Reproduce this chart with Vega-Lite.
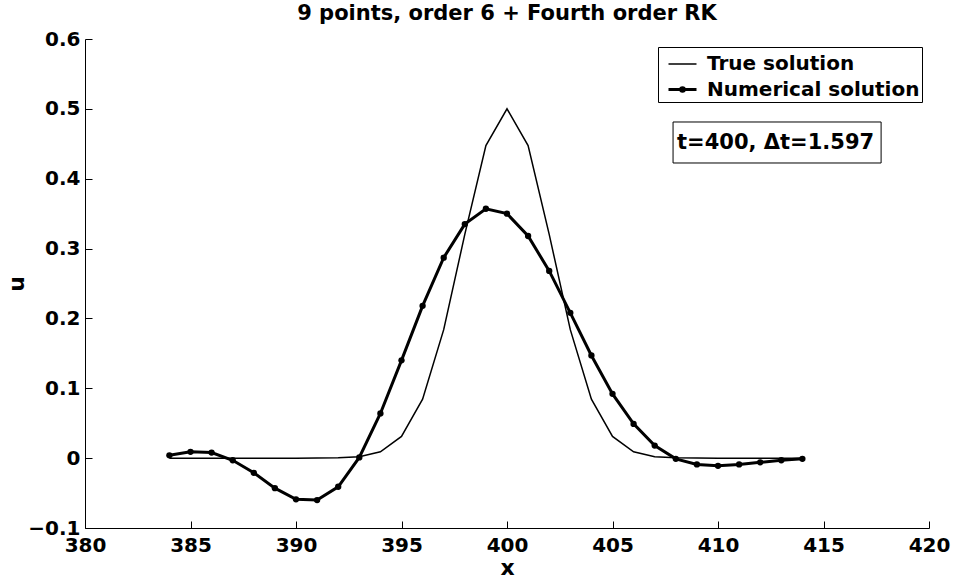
{
  "$schema": "https://vega.github.io/schema/vega-lite/v6.json",
  "width": 844,
  "height": 489,
  "autosize": {"type": "none"},
  "padding": {"left": 85, "top": 39, "right": 25, "bottom": 57},
  "background": "white",
  "config": {
    "view": {"stroke": null},
    "font": "DejaVu Sans",
    "axis": {
      "domainColor": "black",
      "domainWidth": 1,
      "tickColor": "black",
      "tickWidth": 1,
      "tickSize": -7,
      "labelColor": "black",
      "labelFont": "DejaVu Sans",
      "labelFontSize": 20,
      "labelFontWeight": "bold",
      "titleColor": "black",
      "titleFont": "DejaVu Sans",
      "titleFontSize": 22,
      "titleFontWeight": "bold",
      "grid": false,
      "labelFlush": false,
      "labelOverlap": false
    }
  },
  "title": {
    "text": "9 points, order 6 + Fourth order RK",
    "font": "DejaVu Sans",
    "fontSize": 21,
    "fontWeight": "bold",
    "color": "black",
    "anchor": "middle",
    "baseline": "alphabetic",
    "offset": -12
  },
  "datasets": {
    "curves": [
      {"x": 384, "u": 0.0, "series": "True solution"},
      {"x": 385, "u": 0.0, "series": "True solution"},
      {"x": 386, "u": 0.0, "series": "True solution"},
      {"x": 387, "u": 0.0, "series": "True solution"},
      {"x": 388, "u": 0.0000001, "series": "True solution"},
      {"x": 389, "u": 0.0000007, "series": "True solution"},
      {"x": 390, "u": 0.0000074, "series": "True solution"},
      {"x": 391, "u": 0.0000617, "series": "True solution"},
      {"x": 392, "u": 0.000408, "series": "True solution"},
      {"x": 393, "u": 0.00216, "series": "True solution"},
      {"x": 394, "u": 0.00916, "series": "True solution"},
      {"x": 395, "u": 0.0311, "series": "True solution"},
      {"x": 396, "u": 0.0845, "series": "True solution"},
      {"x": 397, "u": 0.1839, "series": "True solution"},
      {"x": 398, "u": 0.3203, "series": "True solution"},
      {"x": 399, "u": 0.4474, "series": "True solution"},
      {"x": 400, "u": 0.5, "series": "True solution"},
      {"x": 401, "u": 0.4474, "series": "True solution"},
      {"x": 402, "u": 0.3203, "series": "True solution"},
      {"x": 403, "u": 0.1839, "series": "True solution"},
      {"x": 404, "u": 0.0845, "series": "True solution"},
      {"x": 405, "u": 0.0311, "series": "True solution"},
      {"x": 406, "u": 0.00916, "series": "True solution"},
      {"x": 407, "u": 0.00216, "series": "True solution"},
      {"x": 408, "u": 0.000408, "series": "True solution"},
      {"x": 409, "u": 0.0000617, "series": "True solution"},
      {"x": 410, "u": 0.0000074, "series": "True solution"},
      {"x": 411, "u": 0.0000007, "series": "True solution"},
      {"x": 412, "u": 0.0000001, "series": "True solution"},
      {"x": 413, "u": 0.0, "series": "True solution"},
      {"x": 414, "u": 0.0, "series": "True solution"},
      {"x": 384, "u": 0.004, "series": "Numerical solution"},
      {"x": 385, "u": 0.009, "series": "Numerical solution"},
      {"x": 386, "u": 0.008, "series": "Numerical solution"},
      {"x": 387, "u": -0.003, "series": "Numerical solution"},
      {"x": 388, "u": -0.021, "series": "Numerical solution"},
      {"x": 389, "u": -0.043, "series": "Numerical solution"},
      {"x": 390, "u": -0.059, "series": "Numerical solution"},
      {"x": 391, "u": -0.060, "series": "Numerical solution"},
      {"x": 392, "u": -0.041, "series": "Numerical solution"},
      {"x": 393, "u": 0.001, "series": "Numerical solution"},
      {"x": 394, "u": 0.064, "series": "Numerical solution"},
      {"x": 395, "u": 0.140, "series": "Numerical solution"},
      {"x": 396, "u": 0.218, "series": "Numerical solution"},
      {"x": 397, "u": 0.287, "series": "Numerical solution"},
      {"x": 398, "u": 0.335, "series": "Numerical solution"},
      {"x": 399, "u": 0.357, "series": "Numerical solution"},
      {"x": 400, "u": 0.350, "series": "Numerical solution"},
      {"x": 401, "u": 0.318, "series": "Numerical solution"},
      {"x": 402, "u": 0.268, "series": "Numerical solution"},
      {"x": 403, "u": 0.208, "series": "Numerical solution"},
      {"x": 404, "u": 0.147, "series": "Numerical solution"},
      {"x": 405, "u": 0.092, "series": "Numerical solution"},
      {"x": 406, "u": 0.049, "series": "Numerical solution"},
      {"x": 407, "u": 0.018, "series": "Numerical solution"},
      {"x": 408, "u": -0.001, "series": "Numerical solution"},
      {"x": 409, "u": -0.009, "series": "Numerical solution"},
      {"x": 410, "u": -0.011, "series": "Numerical solution"},
      {"x": 411, "u": -0.009, "series": "Numerical solution"},
      {"x": 412, "u": -0.006, "series": "Numerical solution"},
      {"x": 413, "u": -0.003, "series": "Numerical solution"},
      {"x": 414, "u": -0.001, "series": "Numerical solution"}
    ],
    "note": [
      {"label": "t=400, Δt=1.597", "x0": 407.87, "x1": 417.73, "y0": 0.4812, "y1": 0.4225, "xt": 408.06, "yt": 0.4518}
    ]
  },
  "layer": [
    {
      "data": {"name": "curves"},
      "transform": [{"filter": "datum.series === 'True solution'"}],
      "mark": {"type": "line", "color": "black", "strokeWidth": 1.5},
      "encoding": {
        "x": {
          "field": "x",
          "type": "quantitative",
          "scale": {"domain": [380, 420], "nice": false, "zero": false},
          "axis": {
            "title": "x",
            "values": [380, 385, 390, 395, 400, 405, 410, 415, 420],
            "format": "d",
            "labelPadding": 14,
            "titlePadding": 2
          }
        },
        "y": {
          "field": "u",
          "type": "quantitative",
          "scale": {"domain": [-0.1, 0.6], "nice": false, "zero": false},
          "axis": {
            "title": "u",
            "values": [-0.1, 0, 0.1, 0.2, 0.3, 0.4, 0.5, 0.6],
            "format": ".1~f",
            "labelPadding": 12,
            "titlePadding": -1
          }
        }
      }
    },
    {
      "data": {"name": "curves"},
      "transform": [{"filter": "datum.series === 'Numerical solution'"}],
      "mark": {"type": "line", "color": "black", "strokeWidth": 3},
      "encoding": {
        "x": {"field": "x", "type": "quantitative"},
        "y": {"field": "u", "type": "quantitative"}
      }
    },
    {
      "data": {"name": "curves"},
      "transform": [{"filter": "datum.series === 'Numerical solution'"}],
      "mark": {"type": "point", "filled": true, "color": "black", "size": 40, "opacity": 1},
      "encoding": {
        "x": {"field": "x", "type": "quantitative"},
        "y": {"field": "u", "type": "quantitative"}
      }
    },
    {
      "data": {"name": "curves"},
      "transform": [{"filter": "false"}],
      "mark": {"type": "point", "filled": false, "color": "black", "opacity": 1},
      "encoding": {
        "x": {"field": "x", "type": "quantitative"},
        "y": {"field": "u", "type": "quantitative"},
        "shape": {
          "field": "series",
          "type": "nominal",
          "scale": {
            "domain": ["True solution", "Numerical solution"],
            "range": ["M-1,0H1", "M-1,0H1M0.13,0A0.13,0.13 0 1 1 -0.13,0A0.13,0.13 0 1 1 0.13,0Z"]
          },
          "legend": {
            "title": null,
            "orient": "none",
            "legendX": 573,
            "legendY": 8,
            "strokeColor": "black",
            "fillColor": "white",
            "padding": 2,
            "rowPadding": 0,
            "symbolSize": 784,
            "symbolOffset": 7,
            "symbolStrokeColor": "black",
            "labelOffset": 9,
            "labelFont": "DejaVu Sans",
            "labelFontSize": 20,
            "labelFontWeight": "bold",
            "labelColor": "black",
            "labelLimit": 400
          }
        },
        "strokeWidth": {
          "field": "series",
          "type": "ordinal",
          "scale": {"domain": ["True solution", "Numerical solution"], "range": [1.5, 3]},
          "legend": {
            "title": null,
            "orient": "none",
            "legendX": 573,
            "legendY": 8
          }
        }
      }
    },
    {
      "data": {"name": "note"},
      "mark": {"type": "rect", "fill": "white", "stroke": "black", "strokeWidth": 1},
      "encoding": {
        "x": {"field": "x0", "type": "quantitative"},
        "x2": {"field": "x1"},
        "y": {"field": "y0", "type": "quantitative"},
        "y2": {"field": "y1"}
      }
    },
    {
      "data": {"name": "note"},
      "mark": {"type": "text", "align": "left", "baseline": "middle", "font": "DejaVu Sans", "fontSize": 21, "fontWeight": "bold", "color": "black"},
      "encoding": {
        "x": {"field": "xt", "type": "quantitative"},
        "y": {"field": "yt", "type": "quantitative"},
        "text": {"field": "label"}
      }
    }
  ]
}
